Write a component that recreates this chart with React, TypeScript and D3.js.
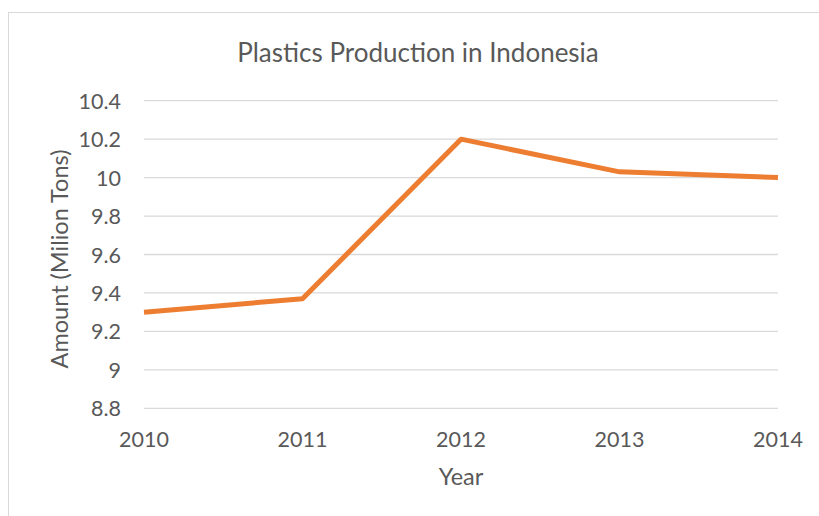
import React from "react";
import * as d3 from "d3";

const years = ["2010", "2011", "2012", "2013", "2014"];
const amounts = [9.3, 9.37, 10.2, 10.03, 10.0];
const yTicks = [8.8, 9, 9.2, 9.4, 9.6, 9.8, 10, 10.2, 10.4];
const title = "Plastics Production in Indonesia";
const xTitle = "Year";
const yTitle = "Amount (Milion Tons)";

const W = 819;
const H = 516;
const FONT = "Lato, Carlito, Calibri, 'Open Sans', sans-serif";
const TEXT = "#595959";

export default function App() {
  const x = d3.scalePoint<string>().domain(years).range([144, 778]);
  const y = d3.scaleLinear().domain([8.8, 10.4]).range([408.3, 100.7]);
  const line = d3
    .line<number>()
    .x((_, i) => x(years[i]) as number)
    .y((d) => y(d));

  return (
    <svg
      width={W}
      height={H}
      style={{ position: "absolute", left: 0, top: 0, background: "#fff" }}
    >
      <rect x={8.5} y={12.5} width={W} height={H} fill="#fff" stroke="#d9d9d9" strokeWidth={1} />
      <text x={418} y={62} textAnchor="middle" fontFamily={FONT} fontSize={26} fill={TEXT}>
        {title}
      </text>
      {yTicks.map((t) => (
        <g key={t}>
          <line x1={144} x2={778} y1={y(t)} y2={y(t)} stroke="#d9d9d9" strokeWidth={1.3} />
          <text
            x={121}
            y={y(t) + 8}
            textAnchor="end"
            fontFamily={FONT}
            fontSize={21.5}
            fill={TEXT}
          >
            {d3.format("~g")(t)}
          </text>
        </g>
      ))}
      {years.map((yr) => (
        <text
          key={yr}
          x={x(yr)}
          y={447}
          textAnchor="middle"
          fontFamily={FONT}
          fontSize={21.5}
          fill={TEXT}
        >
          {yr}
        </text>
      ))}
      <path
        d={line(amounts) || ""}
        fill="none"
        stroke="#ED7D31"
        strokeWidth={5}
        strokeLinejoin="round"
        strokeLinecap="butt"
      />
      <text x={461} y={485} textAnchor="middle" fontFamily={FONT} fontSize={23.5} fill={TEXT}>
        {xTitle}
      </text>
      <text
        transform={`translate(68,259) rotate(-90)`}
        textAnchor="middle"
        fontFamily={FONT}
        fontSize={23.5}
        fill={TEXT}
      >
        {yTitle}
      </text>
    </svg>
  );
}
